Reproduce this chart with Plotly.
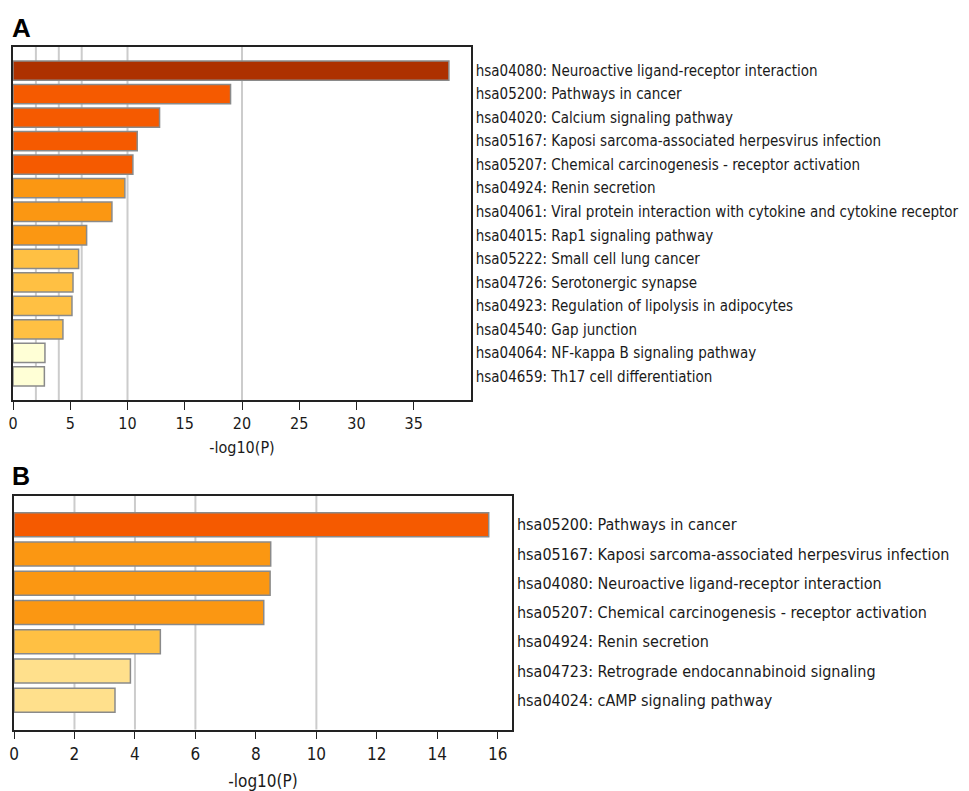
import plotly.graph_objects as go

# ---------------- data ----------------
labels_a = [
    "hsa04080: Neuroactive ligand-receptor interaction",
    "hsa05200: Pathways in cancer",
    "hsa04020: Calcium signaling pathway",
    "hsa05167: Kaposi sarcoma-associated herpesvirus infection",
    "hsa05207: Chemical carcinogenesis - receptor activation",
    "hsa04924: Renin secretion",
    "hsa04061: Viral protein interaction with cytokine and cytokine receptor",
    "hsa04015: Rap1 signaling pathway",
    "hsa05222: Small cell lung cancer",
    "hsa04726: Serotonergic synapse",
    "hsa04923: Regulation of lipolysis in adipocytes",
    "hsa04540: Gap junction",
    "hsa04064: NF-kappa B signaling pathway",
    "hsa04659: Th17 cell differentiation",
]
values_a = [38.07, 19.0, 12.8, 10.85, 10.47, 9.77, 8.64, 6.43, 5.73, 5.24, 5.15, 4.36, 2.79, 2.74]
colors_a = ["#AD3100", "#F55A00", "#F55A00", "#F55A00", "#F55A00",
            "#FB9712", "#FB9712", "#FB9712", "#FFC043", "#FFC043",
            "#FFC043", "#FFC043", "#FFFFD6", "#FFFFD6"]

labels_b = [
    "hsa05200: Pathways in cancer",
    "hsa05167: Kaposi sarcoma-associated herpesvirus infection",
    "hsa04080: Neuroactive ligand-receptor interaction",
    "hsa05207: Chemical carcinogenesis - receptor activation",
    "hsa04924: Renin secretion",
    "hsa04723: Retrograde endocannabinoid signaling",
    "hsa04024: cAMP signaling pathway",
]
values_b = [15.70, 8.49, 8.47, 8.26, 4.84, 3.85, 3.34]
colors_b = ["#F55A00", "#FB9712", "#FB9712", "#FB9712", "#FFC043", "#FFE08C", "#FFE08C"]

ticks_a = [0, 5, 10, 15, 20, 25, 30, 35]
ticks_b = [0, 2, 4, 6, 8, 10, 12, 14, 16]
grid_a = [2, 4, 6, 10, 20]
grid_b = [2, 4, 6, 10]
xtitle = "-log10(P)"

# ---------------- figure ----------------
OFF = 8  # page body margin
W, H = 969 - OFF, 791 - OFF
FONT = "DejaVu Sans Condensed, Liberation Sans Narrow, DejaVu Sans, sans-serif"
TXT = "#1a1a1a"

fig = go.Figure()
fig.add_trace(go.Bar(
    x=values_a, y=labels_a, orientation="h", xaxis="x", yaxis="y",
    marker=dict(color=colors_a, line=dict(color="#8a8a8a", width=1.5)),
    width=0.82, showlegend=False, hoverinfo="x+y"))
fig.add_trace(go.Bar(
    x=values_b, y=labels_b, orientation="h", xaxis="x2", yaxis="y2",
    marker=dict(color=colors_b, line=dict(color="#8a8a8a", width=1.5)),
    width=0.82, showlegend=False, hoverinfo="x+y"))

def px_x(p):
    return (p - OFF) / W

def px_y(p):
    return 1 - (p - OFF) / H

def xaxis_style(tsize, standoff):
    return dict(
        showgrid=False, zeroline=False, showline=True, linecolor="#222", linewidth=1.5,
        mirror=True, ticks="outside", ticklen=8, tickwidth=1.2, tickcolor="#222",
        automargin=False,
        tickfont=dict(family=FONT, size=tsize, color=TXT),
        title=dict(text=xtitle, font=dict(family=FONT, size=tsize, color=TXT), standoff=standoff),
    )

def yaxis_style(lsize):
    return dict(
        showgrid=False, zeroline=False, showline=True, linecolor="#222", linewidth=1.5,
        mirror=True, ticks="", side="right", type="category", automargin=False,
        tickfont=dict(family=FONT, size=lsize, color=TXT),
    )

fig.update_layout(
    width=W, height=H, autosize=False,
    margin=dict(l=0, r=0, t=0, b=0, autoexpand=False),
    paper_bgcolor="white", plot_bgcolor="white",
    xaxis=dict(xaxis_style(16, 10), domain=[px_x(13), px_x(471)], range=[0, 40],
               tickvals=ticks_a, anchor="y"),
    yaxis=dict(yaxis_style(15), domain=[px_y(400), px_y(47)],
               range=[len(labels_a), -1], anchor="x"),
    xaxis2=dict(xaxis_style(17, 14), domain=[px_x(14), px_x(512)], range=[0, 16.47],
                tickvals=ticks_b, anchor="y2"),
    yaxis2=dict(yaxis_style(16), domain=[px_y(729.5), px_y(495.5)],
                range=[len(labels_b), -1], anchor="x2"),
)

shapes = []
for g in grid_a:
    shapes.append(dict(type="line", xref="x", yref="y domain", x0=g, x1=g, y0=0, y1=1,
                       line=dict(color="#cccccc", width=2), layer="below"))
for g in grid_b:
    shapes.append(dict(type="line", xref="x2", yref="y2 domain", x0=g, x1=g, y0=0, y1=1,
                       line=dict(color="#cccccc", width=2), layer="below"))
fig.update_layout(shapes=shapes)

fig.add_annotation(text="<b>A</b>", xref="paper", yref="paper", x=px_x(10), y=px_y(11),
                   xanchor="left", yanchor="top", showarrow=False,
                   font=dict(family="Liberation Sans, Arial, sans-serif", size=26, color="black"))
fig.add_annotation(text="<b>B</b>", xref="paper", yref="paper", x=px_x(10), y=px_y(460),
                   xanchor="left", yanchor="top", showarrow=False,
                   font=dict(family="Liberation Sans, Arial, sans-serif", size=25, color="black"))

fig.write_html("out.html")
